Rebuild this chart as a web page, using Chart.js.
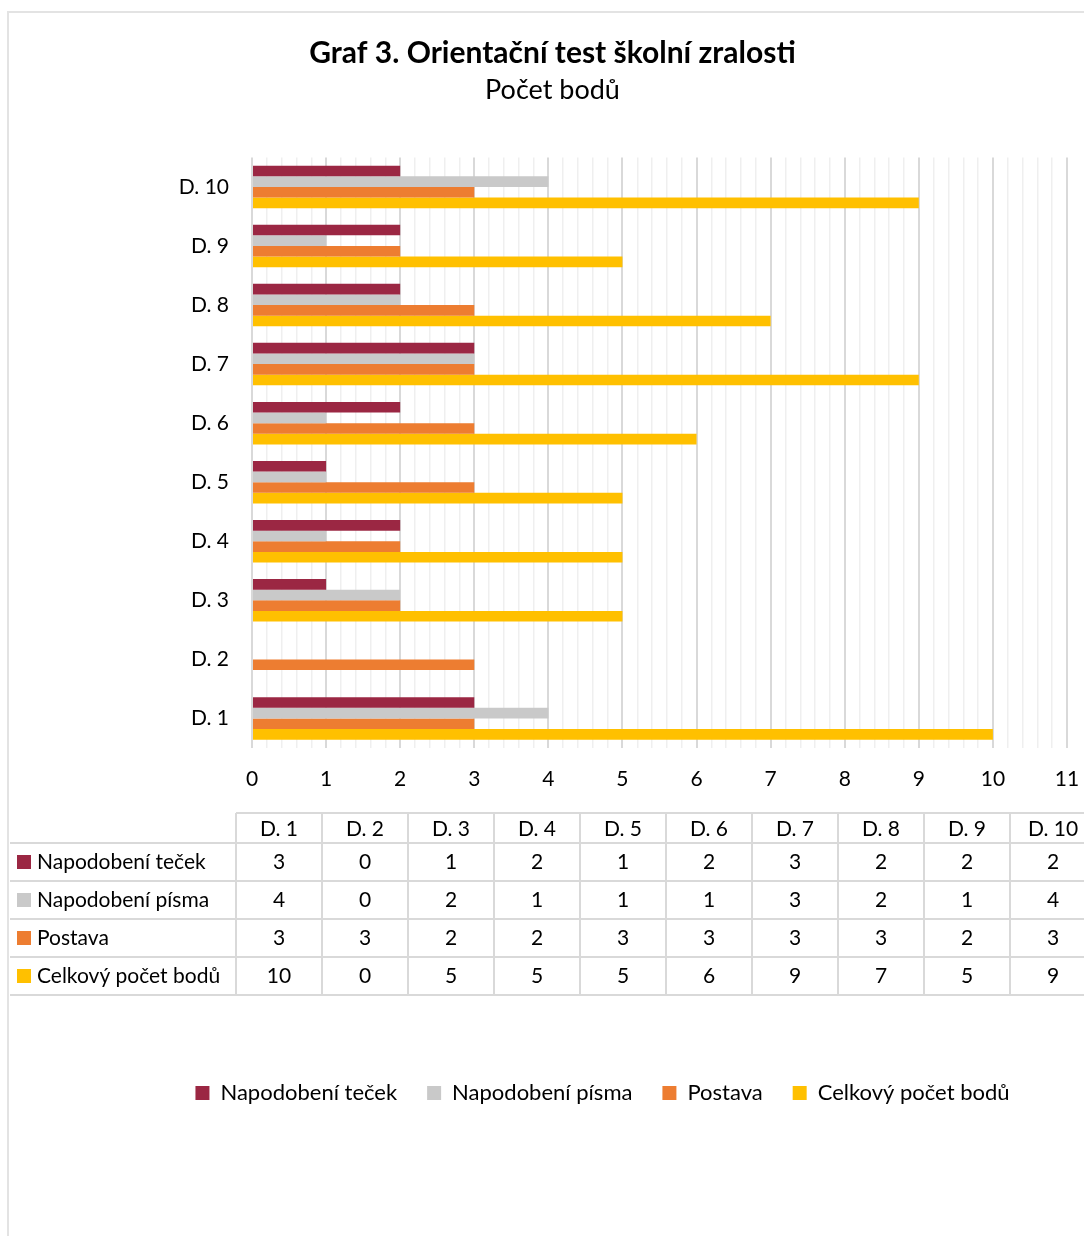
<!DOCTYPE html>
<html>
<head>
<meta charset="utf-8">
<script src="https://cdn.jsdelivr.net/npm/chart.js@4/dist/chart.umd.min.js"></script>
<style>
  html, body { margin: 0; padding: 0; background: #fff; }
  #wrap { width: 1084px; height: 1236px; }
</style>
</head>
<body>
<div id="wrap"><canvas id="myChart" width="1084" height="1236"></canvas></div>
<script>
// categories (D. 1 at the bottom of the chart)
const categories = ['D. 1', 'D. 2', 'D. 3', 'D. 4', 'D. 5', 'D. 6', 'D. 7', 'D. 8', 'D. 9', 'D. 10'];

const seriesNames = ['Napodobení teček', 'Napodobení písma', 'Postava', 'Celkový počet bodů'];
const teckyValues = [3, 0, 1, 2, 1, 2, 3, 2, 2, 2];
const pismoValues = [4, 0, 2, 1, 1, 1, 3, 2, 1, 4];
const postavaValues = [3, 3, 2, 2, 3, 3, 3, 3, 2, 3];
const celkemValues = [10, 0, 5, 5, 5, 6, 9, 7, 5, 9];
const seriesColors = ['#9B2743', '#C9C9C9', '#ED7D31', '#FFC000'];

const xMin = 0;
const xMax = 11;

const FONT = 'Lato, "Open Sans", sans-serif';
const allValues = [teckyValues, pismoValues, postavaValues, celkemValues];

const isMajor = v => Math.abs(v - Math.round(v)) < 1e-6;

// light frame around the chart (cut off right and bottom)
const framePlugin = {
  id: 'frame',
  beforeDraw(chart) {
    const ctx = chart.ctx;
    ctx.save();
    ctx.strokeStyle = '#E3E3E3';
    ctx.lineWidth = 2;
    ctx.beginPath();
    ctx.moveTo(8, chart.height);
    ctx.lineTo(8, 12);
    ctx.lineTo(chart.width, 12);
    ctx.stroke();
    ctx.restore();
  }
};

// legend sits a bit right of centre in the original
const legendShift = {
  id: 'legendShift',
  afterLayout(chart) {
    chart.legend.left += 50;
    chart.legend.right += 50;
  }
};

// data table under the x axis
const tablePlugin = {
  id: 'dataTable',
  afterDraw(chart) {
    const ctx = chart.ctx;
    const top = chart.chartArea.bottom + 65;
    const rowLeft = 10;
    const colLeft = 236;
    const colW = 86;
    const headH = 30;
    const rowH = 38;
    const right = colLeft + colW * categories.length;
    const bottom = top + headH + rowH * seriesNames.length;

    ctx.save();
    ctx.strokeStyle = '#D9D9D9';
    ctx.lineWidth = 2;
    ctx.beginPath();
    ctx.moveTo(colLeft, top);
    ctx.lineTo(right, top);
    for (let r = 0; r <= seriesNames.length; r++) {
      const y = top + headH + rowH * r;
      ctx.moveTo(rowLeft, y);
      ctx.lineTo(right, y);
    }
    for (let c = 0; c <= categories.length; c++) {
      const x = colLeft + colW * c;
      ctx.moveTo(x, top);
      ctx.lineTo(x, bottom);
    }
    ctx.stroke();

    ctx.fillStyle = '#000';
    ctx.font = '21px ' + FONT;
    ctx.textBaseline = 'middle';
    ctx.textAlign = 'center';
    categories.forEach((c, i) => {
      ctx.fillText(c, colLeft + colW * i + colW / 2, top + headH / 2 + 1);
    });
    seriesNames.forEach((name, r) => {
      const yc = top + headH + rowH * r + rowH / 2;
      ctx.fillStyle = seriesColors[r];
      ctx.fillRect(17, yc - 7, 14, 14);
      ctx.fillStyle = '#000';
      ctx.textAlign = 'left';
      ctx.fillText(name, 37, yc);
      ctx.textAlign = 'center';
      allValues[r].forEach((v, i) => {
        ctx.fillText(String(v), colLeft + colW * i + colW / 2, yc);
      });
    });
    ctx.restore();
  }
};

const ctx = document.getElementById('myChart').getContext('2d');
const myChart = new Chart(ctx, {
  type: 'bar',
  data: {
    labels: categories,
    datasets: seriesNames.map((name, i) => ({
      label: name,
      data: allValues[i],
      backgroundColor: seriesColors[i],
      borderWidth: 0,
      categoryPercentage: 0.72,
      barPercentage: 1.0
    }))
  },
  options: {
    indexAxis: 'y',
    responsive: false,
    animation: false,
    layout: {
      padding: { top: 35, left: 38, right: 17, bottom: 122 }
    },
    scales: {
      x: {
        min: xMin,
        max: xMax,
        border: { display: false },
        grid: {
          drawTicks: false,
          color: c => isMajor(c.tick.value) ? '#D9D9D9' : '#EFEFEF',
          lineWidth: c => isMajor(c.tick.value) ? 2 : 1.5
        },
        ticks: {
          stepSize: 0.2,
          maxTicksLimit: 100,
          autoSkip: false,
          maxRotation: 0,
          padding: 19,
          color: '#000',
          font: { family: FONT, size: 21 },
          callback: v => isMajor(v) ? String(Math.round(v)) : ''
        },
        afterFit: scale => {
          scale.height = 304;
          scale.paddingLeft = 0;
          scale.paddingRight = 0;
        }
      },
      y: {
        reverse: true,
        border: { display: false },
        grid: { display: false },
        ticks: {
          padding: 15,
          color: '#000',
          font: { family: FONT, size: 21 }
        },
        afterFit: scale => { scale.width = 214; }
      }
    },
    plugins: {
      title: {
        display: true,
        text: 'Graf 3. Orientační test školní zralosti',
        color: '#000',
        font: { family: FONT, size: 30, weight: 'bold' },
        padding: { top: 0, bottom: 3 }
      },
      subtitle: {
        display: true,
        text: 'Počet bodů',
        color: '#000',
        font: { family: FONT, size: 27, weight: 'normal' },
        padding: { top: 0, bottom: 51 }
      },
      legend: {
        position: 'bottom',
        labels: {
          boxWidth: 14,
          boxHeight: 14,
          padding: 30,
          color: '#000',
          font: { family: FONT, size: 22 }
        }
      },
      tooltip: { enabled: false }
    }
  },
  plugins: [framePlugin, legendShift, tablePlugin]
});
</script>
</body>
</html>
